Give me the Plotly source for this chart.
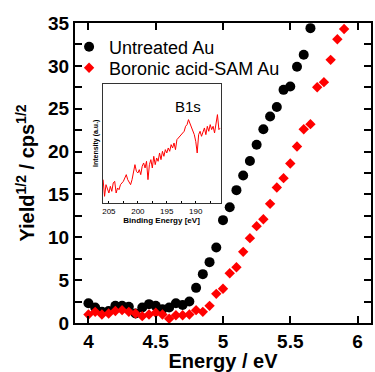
import plotly.graph_objects as go

# Main data (photon energy in eV, Yield^1/2)
energy_untreated = [4.00, 4.05, 4.10, 4.15, 4.20, 4.25, 4.30, 4.35, 4.40, 4.45, 4.50, 4.55,
                    4.60, 4.65, 4.70, 4.75, 4.80, 4.85, 4.90, 4.95, 5.00, 5.05, 5.10, 5.15,
                    5.20, 5.25, 5.30, 5.35, 5.40, 5.45, 5.50, 5.55, 5.60, 5.65]
yield_untreated = [2.3, 1.8, 1.3, 1.4, 2.0, 2.0, 1.9, 1.1, 1.8, 2.2, 2.0, 1.6,
                   1.8, 2.3, 2.1, 2.5, 4.1, 5.7, 7.1, 8.8, 12.0, 13.5, 15.5, 17.2,
                   18.9, 20.8, 22.6, 24.1, 25.2, 27.2, 27.6, 29.9, 31.3, 34.4]

energy_sam = [4.00, 4.05, 4.10, 4.15, 4.20, 4.25, 4.30, 4.35, 4.40, 4.45, 4.50, 4.55,
              4.60, 4.65, 4.70, 4.75, 4.80, 4.85, 4.90, 4.95, 5.00, 5.05, 5.10, 5.15,
              5.20, 5.25, 5.30, 5.35, 5.40, 5.45, 5.50, 5.55, 5.60, 5.65, 5.70, 5.75,
              5.80, 5.85, 5.90]
yield_sam = [1.0, 1.3, 1.0, 1.1, 1.4, 1.5, 1.3, 1.1, 0.8, 1.0, 1.2, 1.0,
             0.5, 0.9, 0.9, 1.0, 1.5, 1.3, 2.0, 3.4, 4.0, 5.8, 6.5, 8.3,
             9.9, 11.3, 12.1, 13.9, 15.8, 16.9, 18.6, 20.6, 22.6, 23.2, 27.5, 28.1,
             30.7, 33.1, 34.3]

# Inset: B1s XPS spectrum (binding energy in eV, intensity a.u.)
binding_energy = [206.00, 205.75, 205.50, 205.25, 205.00, 204.75, 204.50, 204.25, 204.00,
                  203.75, 203.50, 203.25, 203.00, 202.75, 202.50, 202.25, 202.00, 201.75,
                  201.50, 201.25, 201.00, 200.75, 200.50, 200.25, 200.00, 199.75, 199.50,
                  199.25, 199.00, 198.75, 198.50, 198.25, 198.00, 197.75, 197.50, 197.25,
                  197.00, 196.75, 196.50, 196.25, 196.00, 195.75, 195.50, 195.25, 195.00,
                  194.75, 194.50, 194.25, 194.00, 193.75, 193.50, 193.25, 193.00, 192.75,
                  192.50, 192.25, 192.00, 191.75, 191.50, 191.25, 191.00, 190.75, 190.50,
                  190.25, 190.00, 189.75, 189.50, 189.25, 189.00, 188.75, 188.50, 188.25,
                  188.00, 187.75, 187.50, 187.25, 187.00, 186.75, 186.50, 186.25, 186.00,
                  185.75]
intensity = [70, 20, 55, 40, 30, 50, 35, 60, 65,
             30, 45, 40, 55, 60, 65, 75, 85, 70,
             60, 55, 70, 90, 115, 95, 90, 100, 85,
             110, 120, 105, 125, 70, 115, 130, 105, 140,
             115, 135, 125, 150, 130, 155, 140, 160, 150,
             165, 155, 175, 165, 180, 160, 190, 195, 200,
             205, 210, 215, 230, 235, 250, 240, 225, 215,
             205, 185, 150, 205, 215, 200, 210, 225, 205,
             230, 215, 235, 220, 230, 210, 240, 265, 220,
             225]

FONT = "Liberation Sans"

fig = go.Figure()
fig.add_trace(go.Scatter(
    x=energy_untreated, y=yield_untreated, mode="markers", name="Untreated Au",
    marker=dict(symbol="circle", size=10, color="black"),
    xaxis="x", yaxis="y", legend="legend"))
fig.add_trace(go.Scatter(
    x=energy_sam, y=yield_sam, mode="markers", name="Boronic acid-SAM Au",
    marker=dict(symbol="diamond", size=8, color="#ff0000"),
    xaxis="x", yaxis="y", legend="legend2"))
fig.add_trace(go.Scatter(
    x=binding_energy, y=intensity, mode="lines", showlegend=False,
    line=dict(color="#ff0000", width=1),
    xaxis="x2", yaxis="y2"))

leg_common = dict(xanchor="left", yanchor="middle",
                  bgcolor="rgba(0,0,0,0)", borderwidth=0,
                  font=dict(family=FONT, size=18, color="black"),
                  itemwidth=30)

fig.update_layout(
    width=375, height=372,
    margin=dict(l=75, r=2, t=23, b=49),
    paper_bgcolor="white", plot_bgcolor="white",
    font=dict(family=FONT, color="black"),
    showlegend=True,
    legend=dict(x=-0.02, y=0.92, **leg_common),
    legend2=dict(x=-0.02, y=0.85, **leg_common),
    xaxis=dict(range=[3.9, 6.1], tickvals=[4, 4.5, 5, 5.5, 6],
               ticktext=["4", "4.5", "5", "5.5", "6"],
               ticks="inside", ticklen=7, tickwidth=1.5, tickcolor="black",
               showline=True, linecolor="black", linewidth=2, mirror="ticks",
               showgrid=False, zeroline=False,
               tickfont=dict(family=FONT, size=19, weight="bold"),
               title=dict(text="Energy / eV", standoff=2,
                          font=dict(family=FONT, size=20, weight="bold"))),
    yaxis=dict(range=[0, 35], dtick=5, tick0=0,
               ticks="inside", ticklen=7, tickwidth=1.5, tickcolor="black",
               minor=dict(dtick=2.5, ticks="inside", ticklen=7, tickwidth=1.5,
                          tickcolor="black", showgrid=False),
               showline=True, linecolor="black", linewidth=2, mirror="ticks",
               showgrid=False, zeroline=False,
               tickfont=dict(family=FONT, size=19, weight="bold"),
               title=dict(text="Yield<sup>1/2</sup> / cps<sup>1/2</sup>", standoff=8,
                          font=dict(family=FONT, size=20, weight="bold"))),
    xaxis2=dict(domain=[0.093, 0.492], anchor="y2", range=[206.1, 185.7],
                tickvals=[205, 200, 195, 190], ticks="inside", ticklen=2,
                tickwidth=1, tickcolor="black",
                minor=dict(dtick=2.5, tick0=205, ticks="inside", ticklen=2,
                           tickcolor="black", showgrid=False),
                showline=True, linecolor="#333333", linewidth=1, mirror=True,
                showgrid=False, zeroline=False,
                tickfont=dict(family=FONT, size=8),
                title=dict(text="Binding Energy [eV]", standoff=0,
                           font=dict(family=FONT, size=8, weight="bold"))),
    yaxis2=dict(domain=[0.40, 0.798], anchor="x2", range=[0, 358],
                showticklabels=False, ticks="",
                showline=True, linecolor="#333333", linewidth=1, mirror=True,
                showgrid=False, zeroline=False,
                title=dict(text="Intensity (a.u.)", standoff=2,
                           font=dict(family=FONT, size=7, weight="bold"))),
    annotations=[dict(text="B1s", x=0.72, y=0.81, xref="x2 domain", yref="y2 domain",
                      xanchor="center", yanchor="middle",
                      showarrow=False, font=dict(family=FONT, size=15, color="black"))],
)

fig.write_html("out.html", config={"displayModeBar": False},
               post_script="document.body.style.margin='0';document.body.style.padding='0';")
